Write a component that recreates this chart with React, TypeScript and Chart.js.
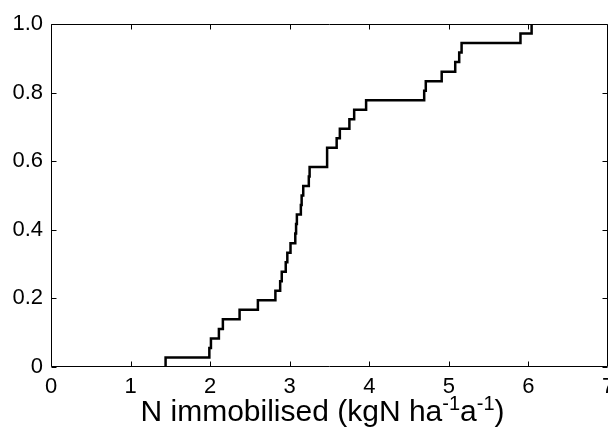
import React, { useEffect, useRef } from "react";
import { Chart, registerables } from "chart.js";

Chart.register(...registerables);

// Sorted sample values of the empirical CDF (kgN ha-1 a-1)
const samples: number[] = [
  1.44, 1.99, 2.01, 2.11, 2.16, 2.37, 2.6, 2.82, 2.88, 2.9, 2.95, 2.97,
  3.01, 3.07, 3.08, 3.09, 3.14, 3.15, 3.17, 3.24, 3.25, 3.47, 3.47, 3.59,
  3.63, 3.75, 3.81, 3.96, 4.69, 4.71, 4.91, 5.08, 5.13, 5.16, 5.9, 6.04,
];

const xTickValues: number[] = [0, 1, 2, 3, 4, 5, 6, 7];
const yTickValues: number[] = [0, 0.2, 0.4, 0.6, 0.8, 1.0];
const yTickLabels: string[] = ["0", "0.2", "0.4", "0.6", "0.8", "1.0"];

const xTitleParts: { t: string; sup: boolean }[] = [
  { t: "N immobilised (kgN ha", sup: false },
  { t: "-1", sup: true },
  { t: "a", sup: false },
  { t: "-1", sup: true },
  { t: ")", sup: false },
];

const FONT = "'Liberation Sans', Arial, Helvetica, sans-serif";

const framePlugin = {
  id: "matlabFrame",
  afterDraw(chart: any) {
    const { ctx, chartArea: a, scales } = chart;
    const xs = scales.x;
    const ys = scales.y;
    ctx.save();
    ctx.strokeStyle = "#000";
    ctx.lineWidth = 1;
    const L = Math.round(a.left) + 0.5;
    const R = Math.round(a.right) - 0.5;
    const T = Math.round(a.top) + 0.5;
    const B = Math.round(a.bottom) - 0.5;
    ctx.beginPath();
    ctx.rect(L, T, R - L, B - T);
    ctx.stroke();
    const tl = 5;
    ctx.beginPath();
    xTickValues.forEach((v) => {
      const px = Math.round(xs.getPixelForValue(v)) + 0.5;
      ctx.moveTo(px, B);
      ctx.lineTo(px, B - tl);
      ctx.moveTo(px, T);
      ctx.lineTo(px, T + tl);
    });
    yTickValues.forEach((v) => {
      const py = Math.round(ys.getPixelForValue(v)) + 0.5;
      ctx.moveTo(L, py);
      ctx.lineTo(L + tl, py);
      ctx.moveTo(R, py);
      ctx.lineTo(R - tl, py);
    });
    ctx.stroke();

    // x-axis title with superscripts
    const mainFont = `30px ${FONT}`;
    const supFont = `20px ${FONT}`;
    let total = 0;
    const widths = xTitleParts.map((p) => {
      ctx.font = p.sup ? supFont : mainFont;
      const w = ctx.measureText(p.t).width;
      total += w;
      return w;
    });
    let x = 322.5 - total / 2;
    const baseline = 421;
    ctx.fillStyle = "#000";
    ctx.textBaseline = "alphabetic";
    ctx.textAlign = "left";
    xTitleParts.forEach((p, i) => {
      ctx.font = p.sup ? supFont : mainFont;
      ctx.fillText(p.t, x, p.sup ? baseline - 11 : baseline);
      x += widths[i];
    });
    ctx.restore();
  },
};

export default function App() {
  const ref = useRef<HTMLCanvasElement | null>(null);

  useEffect(() => {
    document.body.style.margin = "0";
    const n = samples.length;
    const points = [{ x: samples[0], y: 0 }].concat(
      samples.map((v, i) => ({ x: v, y: (i + 1) / n }))
    );
    const chart = new Chart(ref.current as HTMLCanvasElement, {
      type: "line",
      data: {
        datasets: [
          {
            data: points,
            borderColor: "#000",
            borderWidth: 2.5,
            pointRadius: 0,
            stepped: true,
            fill: false,
            tension: 0,
          },
        ],
      },
      options: {
        animation: false,
        responsive: false,
        devicePixelRatio: 1,
        layout: { padding: { top: 24, right: 0, left: 0, bottom: 0 } },
        plugins: {
          legend: { display: false },
          tooltip: { enabled: false },
          title: { display: false },
        },
        scales: {
          x: {
            type: "linear",
            min: 0,
            max: 7,
            grid: { display: false, drawTicks: false },
            border: { display: false },
            afterBuildTicks: (s: any) => {
              s.ticks = xTickValues.map((v) => ({ value: v }));
            },
            afterFit: (s: any) => {
              s.height = 61;
              s.paddingLeft = 0;
              s.paddingRight = 0;
            },
            ticks: {
              color: "#000",
              font: { family: FONT, size: 22 },
              padding: 7,
              maxRotation: 0,
              autoSkip: false,
              callback: (v: any) => String(v),
            },
          },
          y: {
            type: "linear",
            min: 0,
            max: 1,
            grid: { display: false, drawTicks: false },
            border: { display: false },
            afterBuildTicks: (s: any) => {
              s.ticks = yTickValues.map((v) => ({ value: v }));
            },
            afterFit: (s: any) => {
              s.width = 51;
              s.paddingTop = 0;
              s.paddingBottom = 0;
            },
            ticks: {
              color: "#000",
              font: { family: FONT, size: 22 },
              padding: 8,
              autoSkip: false,
              callback: (v: any) => {
                const i = yTickValues.findIndex((t) => Math.abs(t - v) < 1e-9);
                return i >= 0 ? yTickLabels[i] : "";
              },
            },
          },
        },
      },
      plugins: [framePlugin],
    } as any);
    return () => chart.destroy();
  }, []);

  return (
    <div style={{ position: "fixed", left: 0, top: 0, width: 608, height: 428, background: "#fff" }}>
      <canvas ref={ref} width={608} height={428} style={{ display: "block", width: 608, height: 428 }} />
    </div>
  );
}
